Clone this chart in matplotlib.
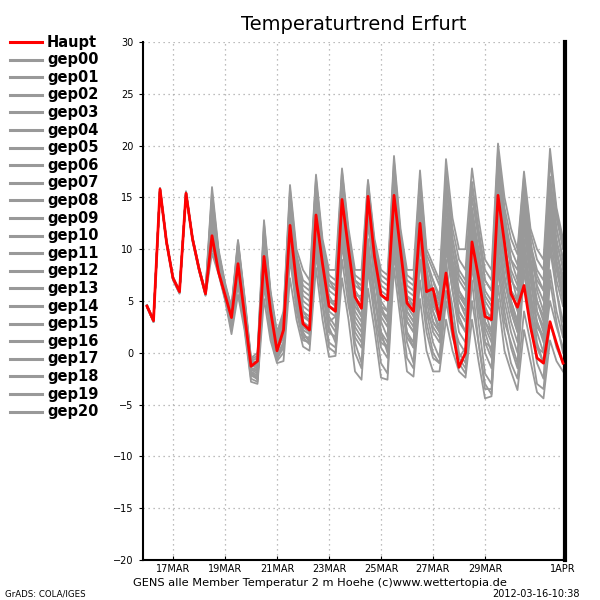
import matplotlib
matplotlib.use("Agg")
import matplotlib.pyplot as plt

# 6-hourly steps starting 16 Mar 00Z, x in "day of March"
start_day = 16.0
step = 0.25

haupt = [4.5, 3.1, 15.8, 10.7, 7.2, 5.9, 15.4, 11.0, 8.1, 5.7, 11.3, 7.8,
         5.6, 3.4, 8.6, 3.7, -1.3, -0.8, 9.3, 4.1, 0.2, 2.2, 12.3, 6.7,
         2.8, 2.2, 13.3, 8.6, 4.5, 4.0, 14.8, 10.0, 5.4, 4.3, 15.1, 9.3,
         5.6, 5.1, 15.2, 9.9, 4.8, 4.0, 12.5, 5.9, 6.2, 3.2, 7.7, 2.2,
         -1.4, 0.0, 10.7, 7.3, 3.5, 3.2, 15.2, 10.6, 5.7, 4.4, 6.5, 2.5,
         -0.5, -1.0, 3.0, 0.9, -1.0]

gep00 = [4.5, 3.0, 15.7, 10.6, 7.3, 6.0, 15.3, 11.1, 8.2, 5.8, 13.5, 9.0,
         6.2, 3.8, 9.5, 4.5, -0.8, -1.2, 10.5, 4.8, 1.0, 2.5, 13.0, 7.5,
         4.0, 3.5, 14.0, 9.0, 5.5, 4.5, 15.5, 10.5, 6.0, 5.0, 14.5, 9.0,
         5.0, 4.0, 16.0, 10.0, 6.0, 5.5, 15.0, 8.0, 5.0, 3.0, 12.0, 8.0,
         5.0, 3.5, 13.0, 9.0, 4.0, 2.0, 14.0, 9.5, 7.0, 6.0, 16.0, 11.0,
         6.0, 4.0, 15.0, 10.0, 7.0]
gep01 = [4.4, 3.1, 15.9, 10.8, 7.1, 5.8, 15.5, 10.9, 8.0, 5.6, 11.0, 7.8,
         5.4, 3.0, 8.0, 3.2, -1.8, -2.2, 8.5, 3.5, -0.5, 1.0, 11.0, 5.5,
         2.0, 1.0, 11.5, 6.5, 2.0, 1.5, 12.0, 7.0, 2.5, 1.5, 11.0, 5.5,
         1.0, 0.5, 11.5, 6.0, 2.0, 1.0, 10.5, 4.0, 1.0, -0.5, 8.0, 4.5,
         0.0, -1.0, 8.5, 3.0, -2.0, -3.0, 9.0, 4.0, 0.5, -1.5, 8.0, 3.5,
         -1.0, -2.5, 7.0, 3.0, 0.0]
gep02 = [4.6, 3.2, 15.8, 10.7, 7.2, 6.0, 15.2, 11.2, 8.3, 5.9, 16.0, 10.0,
         6.8, 4.3, 10.8, 5.3, -0.6, -0.3, 12.5, 5.8, 1.8, 3.5, 15.8, 9.5,
         7.0, 6.5, 16.8, 10.5, 7.5, 7.0, 17.5, 11.5, 7.5, 7.0, 16.5, 10.5,
         7.0, 6.5, 18.5, 11.5, 7.5, 7.0, 17.0, 9.5, 8.0, 6.5, 17.5, 12.0,
         9.0, 8.0, 16.5, 12.0, 8.0, 7.0, 19.5, 14.0, 11.0, 9.5, 17.0, 11.5,
         9.0, 8.0, 18.5, 13.0, 10.0]
gep03 = [4.5, 3.0, 15.6, 10.5, 7.0, 5.7, 15.6, 11.0, 8.1, 5.7, 12.5, 8.5,
         5.8, 3.5, 9.0, 4.0, -1.5, -1.8, 9.8, 4.2, 0.5, 2.0, 12.5, 7.0,
         3.0, 2.5, 13.5, 8.5, 4.0, 3.5, 14.0, 9.0, 4.0, 3.0, 13.0, 7.5,
         3.5, 2.5, 14.0, 8.5, 4.5, 3.5, 13.0, 6.5, 3.0, 2.0, 11.0, 7.0,
         3.5, 2.0, 12.0, 7.5, 2.5, 1.0, 13.0, 8.5, 5.0, 3.0, 13.5, 8.0,
         4.0, 2.0, 12.5, 8.5, 5.5]
gep04 = [4.4, 3.0, 15.7, 10.7, 7.3, 5.9, 15.3, 10.8, 7.9, 5.5, 9.6, 7.6,
         5.1, 1.8, 5.6, 2.2, -2.8, -3.0, 5.2, 1.2, -1.0, -0.8, 7.2, 3.2,
         0.6, 0.2, 8.2, 3.2, -0.4, -0.3, 7.2, 3.2, -1.8, -2.6, 6.2, 2.2,
         -2.4, -2.6, 8.2, 3.2, -1.8, -2.3, 5.2, 0.2, -1.8, -1.8, 3.2, 0.2,
         -1.8, -2.4, 3.2, -0.8, -4.4, -4.2, 5.2, 0.2, -1.8, -3.6, 2.2, -0.8,
         -3.8, -4.4, 1.2, -0.8, -1.8]
gep05 = [4.5, 3.1, 15.9, 10.8, 7.2, 6.1, 15.4, 11.1, 8.2, 5.9, 15.5, 9.8,
         6.5, 4.5, 10.9, 5.5, -0.5, 0.0, 12.8, 6.0, 2.0, 4.0, 16.2, 10.0,
         8.0, 7.0, 17.2, 11.0, 8.0, 8.0, 17.8, 12.0, 8.0, 8.0, 16.7, 11.0,
         8.0, 7.5, 19.0, 12.0, 8.0, 8.0, 17.6, 10.0, 8.5, 7.0, 18.7, 13.0,
         10.0, 10.0, 17.8, 13.0, 9.0, 8.0, 20.2, 15.0, 12.0, 10.0, 17.5, 12.0,
         10.0, 9.0, 19.7, 14.0, 11.0]
gep06 = [4.5, 3.2, 15.8, 10.6, 7.1, 5.8, 15.5, 11.0, 8.1, 5.6, 14.5, 9.5,
         6.0, 4.0, 10.0, 5.0, -1.0, -0.8, 11.5, 5.5, 1.5, 3.0, 14.5, 8.5,
         5.5, 5.0, 15.5, 9.5, 6.0, 5.5, 16.0, 10.0, 5.0, 3.5, 13.5, 8.0,
         2.0, 0.0, 12.0, 6.0, 1.0, -1.0, 9.0, 3.0, 0.0, -1.0, 6.0, 2.0,
         -1.0, -2.0, 7.0, 1.0, -3.0, -4.0, 8.0, 3.0, 1.0, -1.0, 10.0, 5.0,
         2.0, 0.0, 11.0, 6.0, 3.0]
gep07 = [4.6, 3.0, 15.7, 10.7, 7.2, 5.8, 15.4, 10.9, 8.0, 5.6, 10.5, 7.9,
         5.2, 2.2, 6.5, 2.5, -2.5, -2.8, 6.5, 1.8, -0.8, 0.0, 9.0, 4.5,
         1.5, 1.5, 11.0, 6.0, 3.0, 3.5, 13.5, 8.5, 5.5, 5.5, 15.0, 10.0,
         6.5, 6.0, 17.0, 11.0, 7.0, 6.5, 16.0, 9.0, 7.0, 5.5, 16.5, 11.0,
         8.0, 7.0, 15.0, 11.0, 7.0, 6.0, 18.0, 12.5, 9.0, 8.0, 15.5, 10.0,
         7.5, 6.0, 17.0, 12.0, 9.0]
gep08 = [4.5, 3.1, 15.8, 10.8, 7.3, 6.0, 15.3, 11.0, 8.2, 5.8, 13.0, 8.8,
         6.0, 3.6, 9.2, 4.2, -1.2, -1.5, 10.0, 4.5, 0.5, 1.5, 12.0, 6.5,
         3.5, 3.0, 14.5, 9.0, 4.5, 4.0, 15.0, 10.0, 5.0, 4.5, 15.5, 9.5,
         5.5, 5.0, 15.5, 9.0, 4.0, 3.0, 12.0, 5.5, 4.0, 2.0, 9.0, 3.0,
         1.0, 0.0, 11.0, 7.0, 3.0, 2.0, 16.0, 11.0, 6.0, 4.0, 12.0, 7.0,
         3.0, 1.0, 14.0, 9.0, 6.0]
gep09 = [4.4, 3.1, 15.8, 10.6, 7.2, 5.9, 15.4, 11.1, 8.1, 5.7, 11.8, 8.2,
         5.6, 3.2, 8.2, 3.6, -1.6, -2.0, 8.8, 3.8, 0.0, 1.8, 11.8, 6.2,
         2.5, 2.0, 12.5, 7.5, 3.5, 2.5, 13.0, 8.0, 3.0, 2.0, 12.5, 7.0,
         4.0, 3.5, 13.5, 8.0, 5.0, 4.5, 14.0, 7.0, 6.0, 4.5, 14.5, 10.0,
         7.0, 6.0, 14.0, 10.0, 6.0, 5.0, 17.0, 12.0, 8.0, 6.5, 14.0, 9.0,
         5.0, 3.5, 16.0, 11.0, 8.0]
gep10 = [4.5, 3.0, 15.8, 10.7, 7.1, 5.9, 15.5, 11.0, 8.1, 5.8, 14.0, 9.2,
         6.2, 3.9, 10.2, 4.8, -0.9, -0.9, 11.0, 5.0, 1.2, 2.8, 14.0, 8.0,
         4.5, 4.0, 15.0, 9.5, 5.0, 5.0, 16.5, 11.0, 6.5, 6.0, 15.0, 9.5,
         4.5, 3.0, 15.0, 9.0, 3.0, 2.0, 11.0, 5.0, 2.0, 1.0, 10.0, 6.0,
         2.0, 1.0, 10.0, 5.0, 0.0, -1.5, 11.0, 6.0, 3.0, 1.0, 11.0, 6.0,
         1.0, -1.0, 10.0, 6.0, 2.0]
gep11 = [4.5, 3.2, 15.7, 10.8, 7.3, 5.8, 15.4, 11.0, 8.0, 5.7, 11.5, 8.0,
         5.7, 3.3, 8.8, 3.9, -1.4, -1.0, 9.5, 4.0, 0.2, 2.2, 12.2, 6.8,
         2.8, 2.2, 13.2, 8.2, 4.5, 4.2, 15.0, 10.2, 5.2, 4.2, 15.2, 9.2,
         5.5, 5.2, 15.5, 10.0, 5.0, 4.0, 12.8, 6.2, 6.0, 3.5, 8.5, 3.0,
         -0.5, 0.5, 11.5, 8.0, 4.0, 3.5, 15.5, 11.0, 6.0, 5.0, 8.0, 3.5,
         0.5, 0.0, 5.0, 2.5, 0.5]
gep12 = [4.6, 3.1, 15.8, 10.7, 7.2, 5.9, 15.3, 11.0, 8.1, 5.7, 12.8, 8.6,
         5.9, 3.6, 9.0, 4.2, -1.3, -1.2, 10.2, 4.6, 0.8, 2.2, 13.5, 7.8,
         4.0, 3.0, 14.0, 8.0, 2.5, 1.0, 11.0, 6.0, 1.0, -1.0, 9.0, 4.0,
         0.5, -0.5, 10.0, 5.0, 3.0, 2.0, 14.0, 8.0, 5.0, 4.0, 15.0, 10.0,
         6.0, 5.0, 12.0, 7.0, 2.0, 0.0, 12.0, 7.0, 4.0, 2.0, 14.0, 9.0,
         7.0, 6.0, 17.0, 12.0, 9.0]
gep13 = [4.5, 3.0, 15.9, 10.7, 7.2, 5.9, 15.4, 10.9, 8.1, 5.7, 10.2, 7.7,
         5.3, 2.6, 7.0, 2.8, -2.2, -2.5, 7.2, 2.2, -0.6, 0.5, 9.8, 4.0,
         1.2, 1.0, 10.0, 5.0, 1.0, 0.5, 10.5, 5.5, 0.0, -1.5, 8.0, 3.5,
         -1.0, -2.0, 9.5, 4.5, -0.5, -1.5, 7.0, 2.0, -0.5, -1.0, 5.0, 1.5,
         -0.5, -1.5, 5.0, 1.0, -3.5, -3.5, 6.5, 2.0, -1.0, -2.5, 4.0, 1.0,
         -3.0, -3.5, 3.0, 0.5, -1.0]
gep14 = [4.4, 3.1, 15.7, 10.6, 7.2, 5.9, 15.5, 11.1, 8.2, 5.8, 14.8, 9.6,
         6.4, 4.1, 10.5, 5.0, -0.7, -0.6, 12.0, 5.6, 1.6, 3.2, 15.2, 9.2,
         6.0, 5.5, 16.2, 10.2, 7.0, 6.0, 16.8, 11.0, 7.0, 6.5, 16.0, 10.5,
         7.5, 7.0, 17.8, 11.0, 6.5, 6.0, 16.5, 8.5, 7.0, 5.0, 14.0, 9.0,
         6.0, 4.5, 13.5, 9.5, 5.0, 4.0, 17.5, 13.0, 10.0, 8.5, 16.5, 10.5,
         8.0, 7.0, 19.0, 13.5, 10.5]
gep15 = [4.5, 3.1, 15.8, 10.7, 7.1, 5.8, 15.5, 11.0, 8.1, 5.7, 11.5, 8.0,
         5.5, 3.0, 7.8, 3.4, -1.9, -2.4, 8.0, 3.0, -0.2, 1.0, 10.5, 5.0,
         1.5, 0.8, 9.5, 4.5, 0.5, 0.0, 9.0, 4.5, 1.5, 0.5, 10.0, 5.0,
         2.0, 1.0, 11.0, 6.0, 2.0, 0.5, 9.0, 4.0, 2.5, 1.5, 11.5, 7.5,
         4.0, 3.0, 12.5, 8.0, 4.5, 3.0, 14.5, 10.0, 7.5, 5.0, 13.0, 8.0,
         5.0, 3.0, 13.5, 9.5, 7.5]
gep16 = [4.5, 3.0, 15.8, 10.8, 7.2, 6.0, 15.4, 11.0, 8.0, 5.6, 13.8, 9.3,
         6.3, 4.0, 9.8, 4.7, -1.1, -1.3, 10.8, 5.2, 1.0, 2.5, 13.8, 8.2,
         5.0, 4.5, 15.8, 10.0, 6.5, 6.0, 16.5, 10.5, 6.0, 5.0, 14.0, 8.5,
         3.0, 1.5, 13.0, 7.0, 3.5, 2.5, 15.5, 9.0, 6.0, 5.0, 16.0, 11.0,
         7.5, 6.5, 16.0, 11.5, 7.0, 6.0, 19.0, 13.5, 9.0, 7.0, 14.5, 9.0,
         4.0, 2.5, 15.0, 10.5, 8.5]
gep17 = [4.6, 3.1, 15.7, 10.7, 7.2, 5.8, 15.4, 11.0, 8.1, 5.7, 12.2, 8.3,
         5.7, 3.4, 8.5, 3.8, -1.5, -1.6, 9.2, 4.0, 0.3, 1.5, 11.5, 6.0,
         2.2, 1.8, 12.0, 7.0, 3.0, 2.0, 12.5, 7.5, 3.5, 2.5, 13.5, 8.0,
         4.5, 4.0, 14.5, 8.5, 4.0, 3.0, 14.5, 7.5, 4.5, 3.5, 13.0, 8.5,
         5.5, 4.5, 12.5, 8.0, 5.5, 4.5, 14.5, 9.0, 5.0, 3.0, 12.5, 7.5,
         2.5, 1.5, 12.0, 7.0, 4.5]
gep18 = [4.5, 3.1, 15.8, 10.6, 7.3, 5.9, 15.3, 11.1, 8.2, 5.8, 15.0, 9.7,
         6.6, 4.2, 10.4, 5.1, -0.8, -0.5, 11.8, 5.4, 1.5, 3.6, 15.0, 9.0,
         6.5, 6.0, 16.5, 10.5, 7.0, 6.5, 17.0, 11.5, 7.0, 6.0, 15.5, 10.0,
         6.0, 5.5, 17.5, 10.5, 5.5, 5.0, 14.0, 7.0, 4.0, 2.5, 10.5, 6.0,
         3.0, 2.0, 9.5, 4.0, 1.0, 0.5, 10.0, 5.0, 2.0, 0.0, 9.0, 4.5,
         0.5, -1.0, 8.0, 4.0, 1.5]
gep19 = [4.4, 3.0, 15.8, 10.7, 7.2, 5.9, 15.4, 11.0, 8.1, 5.7, 10.8, 7.9,
         5.4, 2.8, 7.5, 3.0, -2.0, -2.6, 7.8, 2.8, -0.4, 0.8, 10.2, 5.2,
         1.8, 1.2, 11.0, 6.0, 2.0, 1.5, 11.5, 7.0, 2.0, 1.0, 10.5, 6.0,
         1.5, 0.5, 12.0, 7.0, 1.5, 0.5, 11.5, 5.5, 3.0, 2.0, 12.5, 8.5,
         5.0, 4.0, 13.0, 8.5, 3.0, 1.5, 12.0, 7.5, 4.0, 2.0, 10.0, 5.5,
         3.0, 1.5, 13.0, 8.0, 5.0]
gep20 = [4.5, 3.1, 15.8, 10.7, 7.2, 5.9, 15.4, 11.0, 8.1, 5.7, 13.2, 8.9,
         6.1, 3.7, 9.4, 4.4, -1.0, -1.0, 10.6, 4.8, 0.8, 2.6, 13.2, 7.6,
         3.5, 3.2, 13.8, 8.5, 5.0, 4.5, 15.5, 10.0, 4.5, 3.5, 14.0, 8.5,
         4.0, 3.0, 14.5, 9.0, 5.5, 4.5, 13.5, 6.5, 5.5, 4.0, 12.5, 8.0,
         4.0, 3.0, 11.0, 6.0, 1.0, -0.5, 11.5, 7.0, 4.5, 2.5, 15.0, 10.0,
         6.5, 5.0, 15.0, 10.0, 6.5]

members = {
    "gep00": gep00, "gep01": gep01, "gep02": gep02, "gep03": gep03,
    "gep04": gep04, "gep05": gep05, "gep06": gep06, "gep07": gep07,
    "gep08": gep08, "gep09": gep09, "gep10": gep10, "gep11": gep11,
    "gep12": gep12, "gep13": gep13, "gep14": gep14, "gep15": gep15,
    "gep16": gep16, "gep17": gep17, "gep18": gep18, "gep19": gep19,
    "gep20": gep20,
}

tick_days = [17, 19, 21, 23, 25, 27, 29, 32]
tick_labels = ["17MAR", "19MAR", "21MAR", "23MAR", "25MAR", "27MAR", "29MAR", "1APR"]
grid_days = [17, 19, 21, 23, 25, 27, 29]
y_ticks = [-20, -15, -10, -5, 0, 5, 10, 15, 20, 25, 30]

x = [start_day + step * i for i in range(len(haupt))]

red = "#ff0000"
grey = "#999999"

fig = plt.figure(figsize=(6, 6), dpi=100)
ax = fig.add_axes([143 / 600, 40 / 600, 422 / 600, 518 / 600])

for name, vals in members.items():
    ax.plot(x, vals, color=grey, linewidth=1.3, zorder=2)
ax.plot(x, haupt, color=red, linewidth=2.0, zorder=3)

# dotted grid
for d in grid_days:
    ax.axvline(d, color="#a8a8a8", linewidth=0.9, linestyle=(0, (1, 3)), zorder=1)
for v in y_ticks[1:]:
    ax.axhline(v, color="#a8a8a8", linewidth=0.9, linestyle=(0, (1, 3)), zorder=1)

ax.set_xlim(15.846, 32.077)
ax.set_ylim(-20, 30)
ax.set_xticks(tick_days)
ax.set_xticklabels(tick_labels)
ax.set_yticks(y_ticks)
ax.set_yticklabels([str(v).replace("-", "\u2212") for v in y_ticks])
ax.tick_params(axis="x", direction="in", length=3, labelsize=7, pad=3)
ax.tick_params(axis="y", direction="out", length=3, labelsize=7, pad=4)

ax.spines["top"].set_visible(False)
ax.spines["left"].set_linewidth(1.5)
ax.spines["bottom"].set_linewidth(1.5)
ax.spines["right"].set_linewidth(3)

# legend on the left
leg_y0 = 42
leg_dy = 17.6
entries = [("Haupt", red)] + [(n, grey) for n in members]
for k, (label, col) in enumerate(entries):
    yy = 1 - (leg_y0 + k * leg_dy) / 600
    fig.add_artist(plt.Line2D([10 / 600, 42 / 600], [yy, yy], color=col,
                              linewidth=2.2, transform=fig.transFigure))
    fig.text(47 / 600, yy, label, fontsize=10.5, fontweight="bold",
             va="center", ha="left")

fig.text(354 / 600, 1 - 24 / 600, "Temperaturtrend Erfurt", fontsize=14,
         ha="center", va="center")
fig.text(320 / 600, 1 - 583 / 600,
         "GENS alle Member Temperatur 2 m Hoehe (c)www.wettertopia.de",
         fontsize=8.2, ha="center", va="center")
fig.text(5 / 600, 1 - 594 / 600, "GrADS: COLA/IGES", fontsize=6.2,
         ha="left", va="center")
fig.text(580 / 600, 1 - 594 / 600, "2012-03-16-10:38", fontsize=7,
         ha="right", va="center")

fig.savefig("out.png", dpi=100)
